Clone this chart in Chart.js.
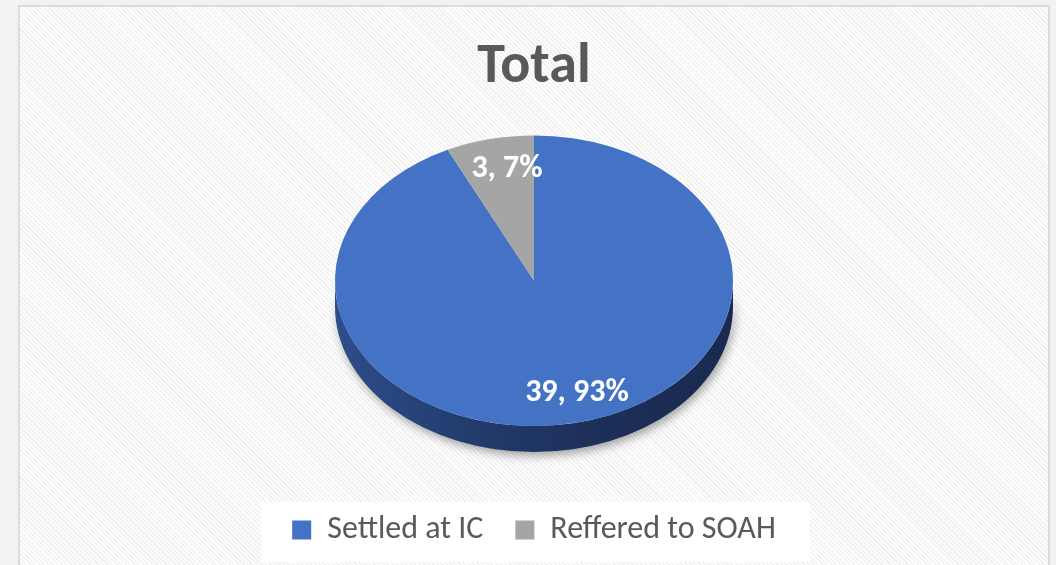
<!DOCTYPE html>
<html>
<head>
<meta charset="utf-8">
<script src="https://cdn.jsdelivr.net/npm/chart.js@4/dist/chart.umd.min.js"></script>
<style>
  html, body { margin: 0; padding: 0; background: #f2f2f2; overflow: hidden; }
  #card {
    position: absolute; left: 18px; top: 5px; width: 1028px; height: 600px;
    border: 2px solid #dcdcdc;
    background: repeating-linear-gradient(45deg, #ffffff 0px, #ffffff 1.6px, #f1f1f1 1.6px, #f1f1f1 3.2px);
  }
  #myChart { display: block; }
</style>
</head>
<body>
<div id="card"><canvas id="myChart" width="1028" height="558"></canvas></div>
<script>
const chartTitle = 'Total';
const categories = ['Settled at IC', 'Reffered to SOAH'];
const counts = [39, 3];

// fake 3d: squash the pie into an ellipse and add a wall under the front half
const pie3d = {
  id: 'pie3d',
  beforeDraw(chart) {
    // white panel behind the legend
    const boxes = chart.legend.legendHitBoxes;
    if (!boxes || !boxes.length) return;
    const first = boxes[0];
    const last = boxes[boxes.length - 1];
    const ctx = chart.ctx;
    ctx.save();
    ctx.fillStyle = '#ffffff';
    ctx.fillRect(first.left - 31, first.top - 12, last.left + last.width - first.left + 65, first.height + 28);
    ctx.restore();
  },
  beforeDatasetsDraw(chart, args, opts) {
    const ctx = chart.ctx;
    const arcs = chart.getDatasetMeta(0).data;
    const cx = arcs[0].x, cy = arcs[0].y, r = arcs[0].outerRadius;
    ctx.save();
    ctx.translate(cx, cy);
    ctx.scale(1, opts.tilt);
    ctx.translate(-cx, -cy);

    const depth = opts.depth / opts.tilt;
    arcs.forEach((arc, i) => {
      for (let k = -1; k <= 1; k++) {
        const lo = Math.max(arc.startAngle, 2 * Math.PI * k);
        const hi = Math.min(arc.endAngle, Math.PI + 2 * Math.PI * k);
        if (hi <= lo) continue;
        const grad = ctx.createLinearGradient(cx - r, 0, cx + r, 0);
        const stops = opts.sideColors[i];
        stops.forEach((c, j) => grad.addColorStop(j / (stops.length - 1), c));
        ctx.save();
        ctx.shadowColor = 'rgba(0, 0, 0, 0.35)';
        ctx.shadowBlur = 10;
        ctx.shadowOffsetX = 2;
        ctx.shadowOffsetY = 4;
        ctx.beginPath();
        ctx.arc(cx, cy, r, lo, hi);
        ctx.arc(cx, cy + depth, r, hi, lo, true);
        ctx.closePath();
        ctx.fillStyle = grad;
        ctx.fill();
        ctx.restore();
      }
    });
  },
  afterDatasetsDraw(chart, args, opts) {
    const ctx = chart.ctx;
    ctx.restore();

    const values = chart.data.datasets[0].data;
    const total = values.reduce((a, b) => a + b, 0);
    const arcs = chart.getDatasetMeta(0).data;
    ctx.save();
    ctx.fillStyle = '#ffffff';
    ctx.font = opts.labelFont;
    ctx.textAlign = 'center';
    ctx.textBaseline = 'middle';
    arcs.forEach((arc, i) => {
      const mid = (arc.startAngle + arc.endAngle) / 2;
      const rr = arc.outerRadius * opts.labelRadius;
      const x = arc.x + Math.cos(mid) * rr + opts.labelShiftX;
      const y = arc.y + Math.sin(mid) * rr * opts.tilt;
      ctx.fillText(values[i] + ', ' + Math.round(values[i] / total * 100) + '%', x, y);
    });
    ctx.restore();
  }
};

Chart.defaults.font.family = 'Carlito, Lato, sans-serif';

const ctx = document.getElementById('myChart').getContext('2d');
const myChart = new Chart(ctx, {
  type: 'pie',
  data: {
    labels: categories,
    datasets: [{
      data: counts,
      backgroundColor: ['#4472c4', '#a5a5a5'],
      borderWidth: 0,
      radius: 199,
      clip: false
    }]
  },
  options: {
    responsive: false,
    animation: false,
    events: [],
    layout: {
      padding: { top: 40, bottom: 9, left: 0, right: 0 }
    },
    plugins: {
      title: {
        display: true,
        text: chartTitle,
        color: '#595959',
        font: { size: 56, weight: 'bold', lineHeight: 0.4 },
        padding: { top: 10, bottom: 0 }
      },
      legend: {
        display: true,
        position: 'bottom',
        labels: {
          color: '#595959',
          font: { size: 32 },
          boxWidth: 19,
          boxHeight: 19,
          padding: 32
        }
      },
      tooltip: { enabled: false },
      pie3d: {
        tilt: 0.73,
        depth: 26,
        labelRadius: 0.79,
        labelShiftX: 8,
        labelFont: 'bold 32px Carlito, Lato, sans-serif',
        sideColors: [
          ['#2d4d8a', '#223c6e', '#1c2f58', '#1a2a4f'],
          ['#6e6e6e', '#5a5a5a', '#4a4a4a', '#404040']
        ]
      }
    }
  },
  plugins: [pie3d]
});
</script>
</body>
</html>
